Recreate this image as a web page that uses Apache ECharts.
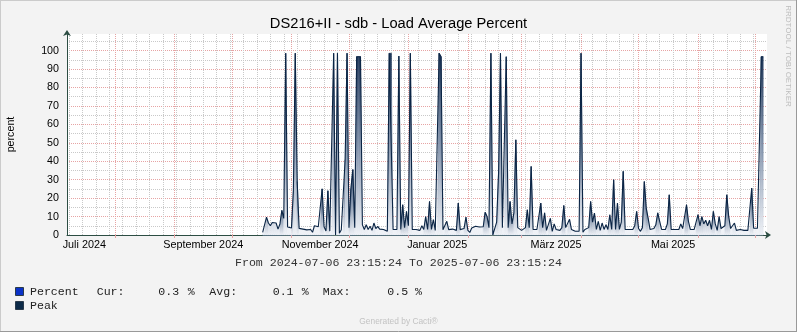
<!DOCTYPE html>
<html>
<head>
<meta charset="utf-8">
<script src="https://cdn.jsdelivr.net/npm/echarts@6/dist/echarts.min.js"></script>
<style>
  html, body { margin: 0; padding: 0; background: #f3f3f3; }
  #chart { width: 797px; height: 332px; }
</style>
</head>
<body>
<div id="chart"></div>
<script>
// Time span of the graph
const rangeStart = '2024-07-06T23:15:24';
const rangeEnd = '2025-07-06T23:15:24';
// First day that has data; one value per day after that
const firstDay = '2024-10-17';

// Daily peak load average (%)
const peak = [
  1.4, 1.8, 9.7, 6.5, 5, 6.8, 6.3, 6.5, 3.2, 6,
  13.4, 9, 98.6, 4.3, 3.5, 3.8, 23.6, 98.6, 29, 3.6,
  3.5, 3.2, 3.5, 2.8, 3, 3, 1.5, 5, 4.6, 4.5,
  4.6, 25, 4.5, 2.2, 24, 2.1, 2.2, 98.6, 0, 98.6,
  1, 2.8, 3, 40.8, 98.6, 4, 25, 35.5, 4, 96.7,
  96.7, 96.7, 5.5, 3, 5.6, 3, 4.7, 2.5, 6.5, 3.5,
  4.7, 3.2, 3.7, 3, 3, 2, 98.6, 98.6, 3, 3,
  3, 97, 3, 16.4, 4, 12.8, 5, 98.6, 3, 2.5,
  3, 2, 2.5, 5, 3, 10, 3, 18.2, 3, 8.3,
  2.5, 3, 98.6, 96.7, 2.9, 3.8, 7.4, 2.9, 3.2, 3.2,
  2.9, 2.5, 17.3, 2.9, 2.9, 3.5, 9.7, 2.5, 1.4, 3.8,
  4.3, 4.7, 4.7, 4.3, 4.7, 4.5, 12.3, 10, 4, 98.6,
  0, 1, 7, 33.6, 98.6, 4, 5, 96.7, 4, 18.2,
  6, 12, 51.6, 4, 3, 2.5, 3, 4, 13.7, 4,
  37.2, 3, 2.5, 3, 3.5, 17.3, 4, 12, 2.5, 3,
  9, 2, 6, 3, 4, 2.5, 4, 16, 4, 3,
  8.5, 3, 2.5, 2, 3, 2, 98.6, 1.5, 3, 3.5,
  4, 18.2, 7, 11.9, 3, 7.4, 2.5, 6.5, 3, 5.6,
  3, 11, 3, 30, 3, 17.3, 3, 7, 34.5, 3,
  2.5, 3, 2.5, 3, 5, 12.8, 3.5, 2, 4, 29,
  14.6, 9, 3, 3, 3.5, 5.5, 12, 7.4, 3, 3.2,
  3, 6, 21.8, 3, 3.2, 3, 3.2, 3, 6, 3.5,
  2.5, 16.4, 7.4, 3, 3.2, 3, 4, 11, 5, 10,
  6, 8, 5, 8, 3, 12.8, 6, 2.5, 10, 3.5,
  2.5, 5, 21.8, 10, 3.5, 3, 6.5, 2.5, 2.5, 3,
  2.5, 2.5, 3, 2.5, 2.5, 25.4, 3.7, 3.7, 3.7, 4.5,
  96.7, 96.7
];

// Daily average load (%)
const percent = [
  0.1, 0.1, 0.1, 0.1, 0.1, 0.1, 0.1, 0.1, 0.1, 0.1,
  0.1, 0.1, 0.2, 0.1, 0.1, 0.1, 0.1, 0.2, 0.1, 0.1,
  0.1, 0.1, 0.1, 0.1, 0.1, 0.1, 0.1, 0.1, 0.1, 0.1,
  0.1, 0.1, 0.1, 0.1, 0.1, 0.1, 0.1, 0.2, 0.5, 0.2,
  0.1, 0.1, 0.1, 0.1, 0.2, 0.1, 0.1, 0.1, 0.1, 0.2,
  0.2, 0.2, 0.1, 0.1, 0.1, 0.1, 0.1, 0.1, 0.1, 0.1,
  0.1, 0.1, 0.1, 0.1, 0.1, 0.1, 0.2, 0.2, 0.1, 0.1,
  0.1, 0.2, 0.1, 0.1, 0.1, 0.1, 0.1, 0.2, 0.1, 0.1,
  0.1, 0.1, 0.1, 0.1, 0.1, 0.1, 0.1, 0.1, 0.1, 0.1,
  0.1, 0.1, 0.2, 0.2, 0.1, 0.1, 0.1, 0.1, 0.1, 0.1,
  0.1, 0.1, 0.1, 0.1, 0.1, 0.1, 0.1, 0.1, 0.1, 0.1,
  0.1, 0.1, 0.1, 0.1, 0.1, 0.1, 0.1, 0.1, 0.1, 0.2,
  0.5, 0.2, 0.1, 0.1, 0.2, 0.1, 0.1, 0.2, 0.1, 0.1,
  0.1, 0.1, 0.1, 0.1, 0.1, 0.1, 0.1, 0.1, 0.1, 0.1,
  0.1, 0.1, 0.1, 0.1, 0.1, 0.1, 0.1, 0.1, 0.1, 0.1,
  0.1, 0.1, 0.1, 0.1, 0.1, 0.1, 0.1, 0.1, 0.1, 0.1,
  0.1, 0.1, 0.1, 0.1, 0.1, 0.1, 0.2, 0.1, 0.1, 0.1,
  0.1, 0.1, 0.1, 0.1, 0.1, 0.1, 0.1, 0.1, 0.1, 0.1,
  0.1, 0.1, 0.1, 0.1, 0.1, 0.1, 0.1, 0.1, 0.1, 0.1,
  0.1, 0.1, 0.1, 0.1, 0.1, 0.1, 0.1, 0.1, 0.1, 0.1,
  0.1, 0.1, 0.1, 0.1, 0.1, 0.1, 0.1, 0.1, 0.1, 0.1,
  0.1, 0.1, 0.1, 0.1, 0.1, 0.1, 0.1, 0.1, 0.1, 0.1,
  0.1, 0.1, 0.1, 0.1, 0.1, 0.1, 0.1, 0.1, 0.1, 0.1,
  0.1, 0.1, 0.1, 0.1, 0.1, 0.1, 0.1, 0.1, 0.1, 0.1,
  0.1, 0.1, 0.1, 0.1, 0.1, 0.1, 0.1, 0.1, 0.1, 0.1,
  0.1, 0.1, 0.1, 0.1, 0.1, 0.1, 0.1, 0.1, 0.1, 0.1,
  0.2, 0.3
];

// Axis ticks and labels
const yTicks = [0, 10, 20, 30, 40, 50, 60, 70, 80, 90, 100];
const yMinorTicks = [5, 15, 25, 35, 45, 55, 65, 75, 85, 95, 105];
const monthStarts = [
  '2024-08-01', '2024-09-01', '2024-10-01', '2024-11-01', '2024-12-01', '2025-01-01',
  '2025-02-01', '2025-03-01', '2025-04-01', '2025-05-01', '2025-06-01', '2025-07-01'
];
const firstMonday = '2024-07-08';
const labelDates = ['2024-07-16', '2024-09-16', '2024-11-16', '2025-01-16', '2025-03-19', '2025-05-19'];
const labelTexts = ['Juli 2024', 'September 2024', 'November 2024', 'Januar 2025', 'März 2025', 'Mai 2025'];

const DAY = 86400000;
function ts(s) {
  const [d, t = '00:00:00'] = s.split('T');
  const [Y, M, D] = d.split('-').map(Number);
  const [h, m, sec] = t.split(':').map(Number);
  return Date.UTC(Y, M - 1, D, h, m, sec);
}

const xMin = ts(rangeStart);
const xMax = ts(rangeEnd);
const t0 = ts(firstDay);
const peakData = peak.map((v, i) => [t0 + i * DAY, v]);
const percentData = percent.map((v, i) => [t0 + i * DAY, v]);
const monthStamps = monthStarts.map(ts);
const labelStamps = labelDates.map(ts);
const weekStamps = [];
for (let w = ts(firstMonday); w < xMax; w += 7 * DAY) weekStamps.push(w);

// Legend figures for the average series
const pCur = percent[percent.length - 1];
const pAvg = percent.reduce((a, b) => a + b, 0) / percent.length;
const pMax = Math.max(...percent);

const AXIS = '#2c4d43';
const MAJOR = '#e7a4a4';
const MINOR = '#c9c9c9';
const SANS = '"Liberation Sans", Arial, sans-serif';
const MONO = '"Liberation Mono", "Courier New", monospace';

// Shading of the peak area: each column fades from a dark top to a pale base;
// low columns stay pale.
const FILL_DARK = [32, 56, 90];
const FILL_MID = [128, 145, 170];
const FILL_LIGHT = [238, 241, 246];
function mix(a, b, k) {
  return 'rgb(' + a.map((c, j) => Math.round(c + (b[j] - c) * k)).join(',') + ')';
}

const chart = echarts.init(document.getElementById('chart'), null, { renderer: 'canvas' });

function txt(x, y, text, font, fill, align) {
  return {
    type: 'text', x, y, silent: true,
    style: { text, font, fill, align: align || 'left', verticalAlign: 'middle',
             textAlign: align || 'left', textVerticalAlign: 'middle' }
  };
}

const legendFont = '11.6px ' + MONO;
const legendColor = '#222';

chart.setOption({
  animation: false,
  backgroundColor: '#f3f3f3',
  grid: {
    left: 67, top: 34, width: 700, height: 201,
    outerBoundsMode: 'none', containLabel: false,
    show: true, backgroundColor: '#ffffff', borderWidth: 0
  },
  xAxis: [
    {
      type: 'value', min: xMin, max: xMax, position: 'bottom',
      axisLine: { show: false },
      axisTick: { show: false, customValues: weekStamps },
      axisLabel: { show: false },
      splitLine: { show: true, lineStyle: { color: MINOR, width: 1, type: [1, 1] } }
    },
    {
      type: 'value', min: xMin, max: xMax, position: 'bottom',
      axisLine: {
        show: true, lineStyle: { color: AXIS, width: 1 },
        symbol: ['none', 'arrow'], symbolSize: [6, 6], symbolOffset: [0, 4]
      },
      axisTick: { show: true, customValues: monthStamps, length: 3, lineStyle: { color: MAJOR } },
      axisLabel: {
        show: true, customValues: labelStamps, margin: 5,
        fontFamily: SANS, fontSize: 10.8, color: '#000',
        formatter: (v) => {
          const k = labelStamps.indexOf(v);
          return k >= 0 ? labelTexts[k] : '';
        }
      },
      splitLine: { show: true, lineStyle: { color: MAJOR, width: 1, type: [1, 1] } }
    }
  ],
  yAxis: [
    {
      type: 'value', min: 0, max: 109, position: 'left',
      axisLine: { show: false },
      axisTick: { show: false, customValues: yMinorTicks },
      axisLabel: { show: false },
      splitLine: { show: true, lineStyle: { color: MINOR, width: 1, type: [1, 1] } }
    },
    {
      type: 'value', min: 0, max: 109, position: 'left',
      name: 'percent', nameLocation: 'middle', nameRotate: 90, nameGap: 50,
      nameTextStyle: { fontFamily: SANS, fontSize: 10.7, color: '#000' },
      axisLine: {
        show: true, lineStyle: { color: AXIS, width: 1 },
        symbol: ['none', 'arrow'], symbolSize: [6, 6], symbolOffset: [0, 4]
      },
      axisTick: { show: false, customValues: yTicks },
      axisLabel: {
        show: true, customValues: yTicks, margin: 8,
        fontFamily: SANS, fontSize: 10.7, color: '#000'
      },
      splitLine: { show: true, lineStyle: { color: MAJOR, width: 1, type: [1, 1] } }
    }
  ],
  series: [
    {
      name: 'Percent', type: 'line', xAxisIndex: 1, yAxisIndex: 1, z: 2,
      data: percentData, showSymbol: false, silent: true,
      lineStyle: { color: '#0a32c8', width: 1 }
    },
    {
      name: 'Peak fill', type: 'custom', xAxisIndex: 1, yAxisIndex: 1, z: 3,
      data: peakData, silent: true, encode: { x: 0, y: 1 },
      renderItem(params, api) {
        const i = params.dataIndex;
        if (i >= peakData.length - 1) return null;
        const a = peakData[i], b = peakData[i + 1];
        const k = Math.max(0, Math.min(1, (Math.max(a[1], b[1]) - 5) / 12));
        const grad = new echarts.graphic.LinearGradient(0, 0, 0, 1, [
          { offset: 0, color: mix(FILL_LIGHT, FILL_DARK, k) },
          { offset: 0.5, color: mix(FILL_LIGHT, FILL_MID, k) },
          { offset: 1, color: mix(FILL_LIGHT, FILL_LIGHT, k) }
        ]);
        return {
          type: 'polygon',
          shape: { points: [api.coord([a[0], 0]), api.coord(a), api.coord(b), api.coord([b[0], 0])] },
          style: { fill: grad, stroke: grad, lineWidth: 0.5 }
        };
      }
    },
    {
      name: 'Peak', type: 'line', xAxisIndex: 1, yAxisIndex: 1, z: 4,
      data: peakData, showSymbol: false, silent: true,
      lineStyle: { color: '#0b2545', width: 1.1 }
    }
  ],
  graphic: [
    // frame
    { type: 'line', silent: true, shape: { x1: 0, y1: 0.5, x2: 797, y2: 0.5 }, style: { stroke: '#cbcbcb', lineWidth: 1 } },
    { type: 'line', silent: true, shape: { x1: 0.5, y1: 0, x2: 0.5, y2: 332 }, style: { stroke: '#cbcbcb', lineWidth: 1 } },
    { type: 'line', silent: true, shape: { x1: 0, y1: 331.5, x2: 797, y2: 331.5 }, style: { stroke: '#999999', lineWidth: 1 } },
    { type: 'line', silent: true, shape: { x1: 796.5, y1: 0, x2: 796.5, y2: 332 }, style: { stroke: '#999999', lineWidth: 1 } },
    // title and side credit
    txt(398.5, 23.5, 'DS216+II - sdb - Load Average Percent', '14.7px ' + SANS, '#000', 'center'),
    {
      type: 'text', x: 788, y: 56, rotation: -Math.PI / 2, silent: true,
      style: { text: 'RRDTOOL / TOBI OETIKER', font: '8px ' + SANS, fill: '#bdbdbd',
               align: 'center', verticalAlign: 'middle', textAlign: 'center', textVerticalAlign: 'middle' }
    },
    // time span
    txt(398.5, 263, 'From ' + rangeStart.replace('T', ' ') + ' To ' + rangeEnd.replace('T', ' '), legendFont, '#333', 'center'),
    // legend
    { type: 'rect', silent: true, shape: { x: 15.5, y: 287.5, width: 8, height: 8 }, style: { fill: '#0a32c8', stroke: '#2a3a4a', lineWidth: 1 } },
    { type: 'rect', silent: true, shape: { x: 15.5, y: 301.5, width: 8, height: 8 }, style: { fill: '#0c2a48', stroke: '#2a3a4a', lineWidth: 1 } },
    txt(30, 291.5, 'Percent', legendFont, legendColor),
    txt(96.7, 291.5, 'Cur:', legendFont, legendColor),
    txt(158.3, 291.5, pCur.toFixed(1), legendFont, legendColor),
    txt(187.7, 291.5, '%', legendFont, legendColor),
    txt(209.3, 291.5, 'Avg:', legendFont, legendColor),
    txt(272.7, 291.5, pAvg.toFixed(1), legendFont, legendColor),
    txt(301.7, 291.5, '%', legendFont, legendColor),
    txt(322.7, 291.5, 'Max:', legendFont, legendColor),
    txt(387.3, 291.5, pMax.toFixed(1), legendFont, legendColor),
    txt(415, 291.5, '%', legendFont, legendColor),
    txt(30, 305.5, 'Peak', legendFont, legendColor),
    // footer
    txt(398.5, 321.5, 'Generated by Cacti®', '8.4px ' + SANS, '#c3c3c3', 'center')
  ]
});
</script>
</body>
</html>
